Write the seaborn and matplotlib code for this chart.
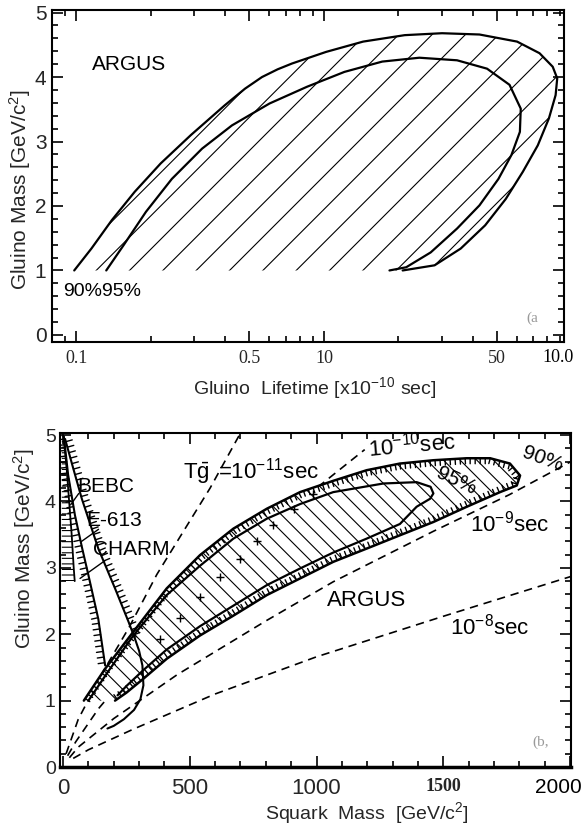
import numpy as np
import pandas as pd
import seaborn as sns
import matplotlib.pyplot as plt
from matplotlib import patheffects
from matplotlib import transforms
from matplotlib.ticker import FixedLocator, LogLocator, MultipleLocator, NullFormatter

# ---- panel (a): gluino lifetime [1e-10 s] vs gluino mass [GeV/c^2] ----
life90 = [0.098, 0.115, 0.139, 0.172, 0.219, 0.290, 0.397, 0.48, 0.562, 0.65, 0.743, 1.02, 1.44, 2.12,
          3.0, 4.25, 6.03, 7.43, 8.4, 8.76, 8.63, 8.11, 7.31, 6.36, 5.43, 4.48, 3.57, 2.80, 2.08]
mass90 = [1.0, 1.34, 1.78, 2.22, 2.66, 3.10, 3.56, 3.82, 4.0, 4.12, 4.21, 4.39, 4.55, 4.65,
          4.68, 4.66, 4.55, 4.37, 4.16, 3.98, 3.72, 3.36, 2.94, 2.53, 2.11, 1.70, 1.34, 1.08, 1.0]
life95 = [0.132, 0.155, 0.191, 0.243, 0.322, 0.425, 0.603, 0.855, 1.21, 1.72, 2.43, 3.45,
          4.56, 5.62, 6.24, 6.19, 5.72, 5.07, 4.25, 3.45, 2.70, 2.15, 1.84]
mass95 = [1.0, 1.39, 1.91, 2.42, 2.89, 3.25, 3.59, 3.85, 4.08, 4.24, 4.30, 4.26,
          4.13, 3.88, 3.51, 3.15, 2.79, 2.42, 2.01, 1.65, 1.28, 1.05, 1.0]
life_ticks = [0.1, 0.5, 1, 5]
life_labels = ['0.1', '0.5', '10', '50']

# ---- panel (b): squark mass vs gluino mass [GeV/c^2] ----
sq90 = [82, 166, 276, 409, 540, 672, 804, 935, 1066, 1198, 1329, 1461, 1593, 1685, 1763, 1803,
        1790, 1724, 1593, 1461, 1329, 1198, 1066, 935, 804, 672, 540, 409, 317, 250, 205]
gl90 = [1.0, 1.48, 2.03, 2.69, 3.19, 3.59, 3.89, 4.14, 4.31, 4.47, 4.57, 4.62, 4.65, 4.65, 4.57, 4.39,
        4.24, 4.14, 3.92, 3.69, 3.49, 3.29, 3.09, 2.84, 2.59, 2.28, 1.98, 1.63, 1.33, 1.12, 1.0]
sq95 = [100, 180, 277, 409, 540, 672, 804, 935, 1066, 1264, 1395, 1450, 1461, 1448, 1395,
        1329, 1198, 1066, 935, 804, 672, 540, 409, 317, 250, 215]
gl95 = [1.0, 1.45, 1.98, 2.59, 3.03, 3.44, 3.74, 3.96, 4.14, 4.27, 4.29, 4.22, 4.12, 4.04, 3.92,
        3.66, 3.44, 3.23, 2.99, 2.74, 2.43, 2.12, 1.77, 1.46, 1.22, 1.08]
mid_sq = [383, 460, 540, 620, 698, 765, 830, 910, 987]
mid_gl = [1.93, 2.25, 2.56, 2.86, 3.14, 3.40, 3.64, 3.88, 4.11]

bebc_sq = [2, 14, 24, 34, 42, 46]
bebc_gl = [4.98, 4.5, 4.0, 3.5, 3.0, 2.8]
e613_sq = [3, 20, 47, 75, 100, 139, 166]
e613_gl = [4.98, 4.4, 3.79, 3.3, 2.89, 2.23, 1.53]
charm_sq = [8, 40, 74, 139, 205, 258, 282]
charm_gl = [4.94, 4.5, 4.04, 3.29, 2.69, 2.19, 1.95]
lobe_sq = [282, 300, 313, 317, 305, 280, 240, 200, 175]
lobe_gl = [1.95, 1.75, 1.53, 1.23, 1.02, 0.86, 0.72, 0.62, 0.58]

tau11_sq = [12, 60, 160, 260, 370, 475, 580, 700]
tau11_gl = [0.2, 0.72, 1.45, 2.1, 2.9, 3.55, 4.2, 5.03]
tau10_sq = [18, 50, 140, 300, 550, 800, 1000, 1190]
tau10_gl = [0.17, 0.38, 0.88, 1.6, 2.6, 3.5, 4.2, 4.78]
tau9_sq = [25, 60, 200, 450, 800, 1066, 1461, 1760, 2004]
tau9_gl = [0.14, 0.3, 0.73, 1.39, 2.2, 2.79, 3.55, 4.1, 4.6]
tau8_sq = [40, 100, 277, 600, 1000, 1500, 2004]
tau8_gl = [0.13, 0.26, 0.57, 1.1, 1.66, 2.27, 2.87]
sq_ticks = [0, 500, 1000, 1500, 2000]
sq_labels = ['0', '500', '1000', '1500', '']

sns.set_theme(style='white')
plt.rcParams['font.family'] = ['Liberation Sans', 'DejaVu Sans']
plt.rcParams['mathtext.default'] = 'regular'
plt.rcParams['hatch.linewidth'] = 0.8
plt.rcParams['text.color'] = 'black'

fig = plt.figure(figsize=(5.85, 8.34), dpi=100)
axa = fig.add_axes([0.0889, 0.5899, 0.8752, 0.3981])
axb = fig.add_axes([0.1026, 0.0803, 0.8735, 0.4005])


def curve(ax, x, y, **kw):
    df = pd.DataFrame({'x': x, 'y': y})
    sns.lineplot(data=df, x='x', y='y', sort=False, estimator=None, ax=ax,
                 color='black', **kw)


# ---------------- panel (a) ----------------
axa.set_xscale('log')
axa.fill(life90, mass90, facecolor='none', edgecolor='black', hatch='/', linewidth=0)
curve(axa, life90, mass90, lw=1.6)
curve(axa, life95, mass95, lw=1.6)

axa.set_xlim(0.0797, 9.33)
axa.set_ylim(-0.11, 5.04)
axa.xaxis.set_major_locator(FixedLocator(life_ticks))
axa.set_xticklabels(life_labels, fontfamily='Liberation Serif', fontsize=13)
axa.xaxis.set_minor_locator(LogLocator(base=10, subs=np.arange(2, 10)))
axa.xaxis.set_minor_formatter(NullFormatter())
axa.yaxis.set_major_locator(MultipleLocator(1))
axa.yaxis.set_minor_locator(MultipleLocator(0.2))
axa.tick_params(which='both', direction='in', top=True, right=True, bottom=True, left=True,
                color='black', width=1.2)
axa.tick_params(which='major', length=8)
axa.tick_params(which='minor', length=4)
axa.tick_params(axis='y', labelsize=15, pad=4)
axa.tick_params(axis='x', pad=6)
axa.text(8.85, -0.02, '10.0', transform=transforms.blended_transform_factory(axa.transData, axa.transAxes),
         ha='center', va='top', fontfamily='Liberation Serif', fontsize=13)
axa.set_xlabel('Gluino  Lifetime [x10$^{-10}$ sec]', fontsize=14)
axa.set_ylabel('Gluino Mass [GeV/c$^2$]', fontsize=15)
axa.xaxis.set_label_coords(0.513, -0.1)
axa.yaxis.set_label_coords(-0.038, 0.46)
axa.text(0.116, 4.2, 'ARGUS', fontsize=15, va='center', ha='left')
axa.text(0.088, 0.67, '90%95%', fontsize=14, va='center', ha='left')
axa.text(6.6, 0.26, '(a', fontsize=11, color='#9a9a9a', va='center', fontfamily='Liberation Serif')

# ---------------- panel (b) ----------------
dash = (0, (5, 3.5))
for xs, ys in [(tau11_sq, tau11_gl), (tau10_sq, tau10_gl), (tau9_sq, tau9_gl), (tau8_sq, tau8_gl)]:
    curve(axb, xs, ys, lw=1.2, linestyle=dash)

axb.fill(sq90, gl90, facecolor='white', edgecolor='black', hatch='\\\\', linewidth=0, zorder=2)
curve(axb, sq90, gl90, lw=1.8, zorder=3,
      path_effects=[patheffects.withTickedStroke(angle=-90, spacing=3.6, length=1.1, linewidth=1.0)])
curve(axb, sq95, gl95, lw=1.6, zorder=3)
axb.plot(mid_sq, mid_gl, linestyle='none', marker='+', markersize=6, mew=1.0, color='black', zorder=3)

axb.fill_betweenx(bebc_gl, -5, bebc_sq, facecolor='none', edgecolor='black', hatch='---', linewidth=0)
curve(axb, bebc_sq, bebc_gl, lw=1.3)
curve(axb, e613_sq, e613_gl, lw=1.5,
      path_effects=[patheffects.withTickedStroke(angle=-90, spacing=4, length=1.2, linewidth=1.0)])
curve(axb, charm_sq, charm_gl, lw=1.5,
      path_effects=[patheffects.withTickedStroke(angle=90, spacing=4, length=1.2, linewidth=1.0)])
curve(axb, lobe_sq, lobe_gl, lw=1.5, zorder=3)

axb.set_xlim(-12, 2004)
axb.set_ylim(0, 5.03)
axb.xaxis.set_major_locator(FixedLocator(sq_ticks))
axb.set_xticklabels(sq_labels)
axb.xaxis.set_minor_locator(MultipleLocator(100))
axb.yaxis.set_major_locator(MultipleLocator(1))
axb.yaxis.set_minor_locator(MultipleLocator(0.2))
axb.tick_params(which='both', direction='in', top=True, right=True, bottom=True, left=True,
                color='black', width=1.2)
axb.tick_params(which='major', length=8)
axb.tick_params(which='minor', length=4)
axb.tick_params(axis='x', labelsize=16, pad=8)
axb.tick_params(axis='y', labelsize=14, pad=3)
lab1500 = axb.get_xticklabels()[3]
lab1500.set_fontfamily('Liberation Serif')
lab1500.set_fontweight('bold')
lab1500.set_fontsize(13)
axb.text(1955, -0.034, '2000', fontsize=15, ha='center', va='top',
         transform=transforms.blended_transform_factory(axb.transData, axb.transAxes))
axb.set_xlabel('Squark  Mass  [GeV/c$^2$]', fontsize=14)
axb.set_ylabel('Gluino Mass [GeV/c$^2$]', fontsize=15)
axb.xaxis.set_label_coords(0.6, -0.1)
axb.yaxis.set_label_coords(-0.045, 0.655)

axb.text(475, 4.34, r'T$\bar{g}$', fontsize=16, ha='left', va='baseline')
axb.text(610, 4.34, '=10$^{-11}$sec', fontsize=16, ha='left', va='baseline')
axb.text(1199, 4.67, '10$^{-10}$sec', fontsize=16, ha='left', va='baseline', rotation=5)
axb.text(1462, 4.10, '95%', fontsize=15, ha='left', va='baseline', rotation=-25)
axb.text(1800, 4.45, '90%', fontsize=15, ha='left', va='baseline', rotation=-20)
axb.text(1606, 3.54, '10$^{-9}$sec', fontsize=16, ha='left', va='baseline')
axb.text(1042, 2.51, 'ARGUS', fontsize=16, ha='left', va='center')
axb.text(1527, 1.99, '10$^{-8}$sec', fontsize=16, ha='left', va='baseline')
axb.text(54, 4.22, 'BEBC', fontsize=15, ha='left', va='center')
axb.text(93, 3.72, 'E-613', fontsize=15, ha='left', va='center')
axb.text(119, 3.27, 'CHARM', fontsize=15, ha='left', va='center')
axb.plot([30, 62], [3.95, 4.12], color='black', lw=1.0)
axb.plot([70, 140], [3.39, 3.58], color='black', lw=1.0)
axb.plot([67, 166], [2.84, 3.11], color='black', lw=1.0)
axb.text(1850, 0.38, '(b,', fontsize=11, color='#9a9a9a', va='center', fontfamily='Liberation Serif')

for ax in (axa, axb):
    for s in ax.spines.values():
        s.set_color('black')
        s.set_linewidth(1.5)
    ax.set_facecolor('white')
axb.spines['bottom'].set_linewidth(2.5)

fig.savefig('out.png', dpi=100, facecolor='white')
